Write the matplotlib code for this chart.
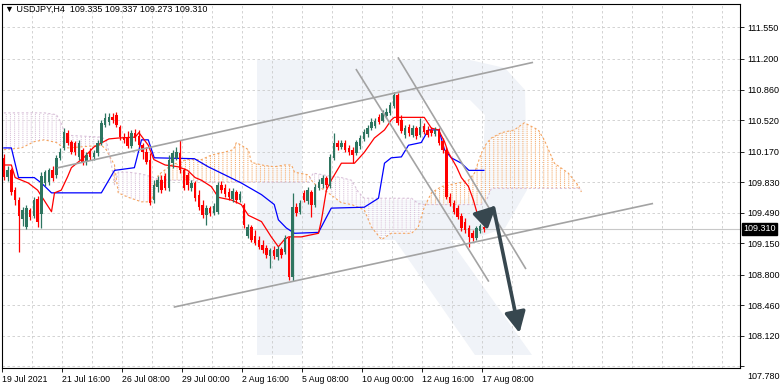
import numpy as np
import matplotlib
matplotlib.use("Agg")
import matplotlib.pyplot as plt
from matplotlib.patches import Polygon, FancyArrowPatch
from matplotlib.transforms import ScaledTranslation, blended_transform_factory

plt.rcParams['font.family'] = ['Liberation Sans', 'DejaVu Sans']
plt.rcParams['hatch.linewidth'] = 0.7

# USDJPY H4 candles, bar 0 = 19 Jul 2021 00:00, last bar = 17 Aug 08:00
opens = [110.10, 109.89, 109.96, 109.74, 109.63, 109.42, 109.33, 109.52, 109.45, 109.64,
         109.47, 109.82, 109.83, 109.96, 109.91, 110.10, 110.21, 110.38, 110.28, 110.27,
         110.11, 110.19, 110.05, 110.16, 110.11, 110.15, 110.27, 110.47, 110.50, 110.55,
         110.58, 110.44, 110.33, 110.32, 110.23, 110.38, 110.34, 110.24, 110.16, 110.08,
         109.63, 109.78, 109.85, 109.90, 109.76, 110.04, 110.10, 110.15, 109.96, 109.91,
         109.76, 109.82, 109.69, 109.58, 109.46, 109.54, 109.49, 109.50, 109.80, 109.76,
         109.72, 109.64, 109.72, 109.63, 109.58, 109.23, 109.33, 109.23, 109.19, 109.13,
         109.10, 109.01, 109.07, 109.00, 109.09, 109.05, 109.21, 108.77, 109.55, 109.50,
         109.71, 109.62, 109.72, 109.58, 109.76, 109.81, 109.88, 109.79, 110.10, 110.27,
         110.22, 110.27, 110.21, 110.19, 110.15, 110.23, 110.31, 110.36, 110.43, 110.45,
         110.55, 110.51, 110.57, 110.60, 110.68, 110.80, 110.52, 110.35, 110.44, 110.35,
         110.43, 110.35, 110.45, 110.41, 110.41, 110.37, 110.40, 110.29, 110.19, 109.66,
         109.60, 109.54, 109.45, 109.39, 109.32, 109.26, 109.21, 109.29, 109.335]
highs = [110.14, 110.01, 109.99, 109.77, 109.66, 109.55, 109.58, 109.54, 109.66, 109.67,
         109.94, 109.96, 109.99, 110.01, 110.13, 110.21, 110.43, 110.41, 110.30, 110.29,
         110.30, 110.21, 110.16, 110.21, 110.19, 110.30, 110.52, 110.60, 110.60, 110.60,
         110.61, 110.47, 110.38, 110.40, 110.41, 110.42, 110.41, 110.27, 110.22, 110.15,
         109.85, 109.90, 109.91, 109.93, 110.13, 110.19, 110.22, 110.30, 109.99, 109.94,
         109.85, 109.84, 109.74, 109.63, 109.58, 109.56, 109.60, 109.83, 109.84, 109.81,
         109.76, 109.76, 109.74, 109.73, 109.60, 109.36, 109.35, 109.30, 109.23, 109.19,
         109.13, 109.10, 109.12, 109.12, 109.11, 109.24, 109.23, 109.71, 109.60, 109.63,
         109.74, 109.77, 109.74, 109.81, 109.86, 109.91, 109.90, 110.14, 110.38, 110.30,
         110.30, 110.30, 110.24, 110.22, 110.30, 110.35, 110.42, 110.47, 110.54, 110.54,
         110.59, 110.63, 110.65, 110.72, 110.83, 110.82, 110.58, 110.47, 110.48, 110.47,
         110.45, 110.54, 110.49, 110.45, 110.44, 110.44, 110.43, 110.32, 110.22, 109.71,
         109.63, 109.58, 109.49, 109.43, 109.35, 109.30, 109.34, 109.36, 109.337]
lows = [109.85, 109.84, 109.69, 109.58, 109.05, 109.34, 109.31, 109.41, 109.43, 109.33,
        109.32, 109.79, 109.80, 109.84, 109.88, 110.08, 110.19, 110.24, 110.14, 110.13,
        110.08, 110.02, 110.02, 110.08, 110.08, 110.12, 110.24, 110.44, 110.47, 110.49,
        110.44, 110.30, 110.27, 110.21, 110.21, 110.29, 110.22, 110.09, 110.03, 109.58,
        109.60, 109.72, 109.71, 109.74, 109.73, 109.99, 110.08, 109.93, 109.74, 109.74,
        109.73, 109.62, 109.52, 109.43, 109.35, 109.45, 109.46, 109.48, 109.71, 109.66,
        109.63, 109.61, 109.60, 109.61, 109.32, 109.21, 109.16, 109.13, 109.09, 109.04,
        108.99, 108.87, 108.97, 108.96, 108.99, 109.03, 108.74, 108.73, 109.45, 109.48,
        109.61, 109.59, 109.44, 109.55, 109.74, 109.76, 109.76, 109.76, 110.08, 110.19,
        110.20, 110.16, 110.13, 110.04, 110.13, 110.20, 110.29, 110.33, 110.41, 110.43,
        110.48, 110.50, 110.54, 110.58, 110.65, 110.47, 110.38, 110.32, 110.34, 110.33,
        110.31, 110.33, 110.37, 110.33, 110.34, 110.34, 110.24, 110.15, 109.64, 109.56,
        109.48, 109.42, 109.29, 109.26, 109.11, 109.17, 109.19, 109.26, 109.273]
closes = [109.89, 109.96, 109.72, 109.63, 109.45, 109.52, 109.54, 109.44, 109.63, 109.39,
          109.90, 109.94, 109.96, 109.88, 110.10, 110.16, 110.39, 110.27, 110.16, 110.16,
          110.27, 110.05, 110.13, 110.11, 110.15, 110.27, 110.49, 110.54, 110.55, 110.52,
          110.47, 110.33, 110.30, 110.23, 110.38, 110.32, 110.24, 110.16, 110.05, 109.60,
          109.80, 109.85, 109.74, 109.76, 110.08, 110.15, 110.16, 109.96, 109.76, 109.80,
          109.82, 109.65, 109.55, 109.46, 109.54, 109.49, 109.56, 109.80, 109.74, 109.70,
          109.66, 109.73, 109.63, 109.70, 109.35, 109.33, 109.19, 109.15, 109.11, 109.07,
          109.02, 109.07, 109.01, 109.09, 109.02, 109.21, 108.77, 109.55, 109.49, 109.60,
          109.63, 109.74, 109.58, 109.78, 109.83, 109.88, 109.80, 110.11, 110.27, 110.22,
          110.27, 110.19, 110.16, 110.13, 110.28, 110.32, 110.39, 110.43, 110.50, 110.51,
          110.50, 110.60, 110.61, 110.69, 110.80, 110.49, 110.40, 110.43, 110.38, 110.43,
          110.34, 110.44, 110.39, 110.35, 110.38, 110.41, 110.27, 110.19, 109.66, 109.60,
          109.50, 109.44, 109.32, 109.30, 109.22, 109.21, 109.32, 109.34, 109.310]

# Ichimoku as (bar, price) points
tenkan_x = [0, 2, 3, 6.5, 9, 11, 12.7, 13.5, 15.3, 17, 18, 21.5, 24, 28, 30.5, 35, 36, 38.5, 40, 43,
            46.5, 49, 51, 52.7, 55.3, 57.2, 60.7, 63.3, 65.2, 68.7, 71.3, 73.2, 74.8, 75.9, 79.3, 83.9,
            84.7, 86, 87.3, 90, 93.5, 96.1, 98.8, 101.5, 103.3, 104.1, 112.1, 114, 115.9, 117.5,
            118.5, 120.7, 122, 123.9, 125.2, 126.5, 128]
tenkan_y = [110.02, 110.02, 109.88, 109.82, 109.74, 109.61, 109.50, 109.71, 109.74, 109.89,
            109.99, 110.11, 110.22, 110.31, 110.32, 110.33, 110.38, 110.24, 110.08, 110.02,
            110.00, 109.96, 109.88, 109.85, 109.78, 109.66, 109.63, 109.58, 109.46, 109.39,
            109.22, 109.11, 109.19, 109.22, 109.22, 109.26, 109.41, 109.74, 109.85, 110.04,
            110.04, 110.16, 110.32, 110.41, 110.52, 110.55, 110.55, 110.43, 110.41, 110.28,
            110.16, 110.00, 109.88, 109.78, 109.63, 109.44, 109.43]
kijun_x = [0, 2, 3.9, 8.1, 10, 12.7, 26, 29.5, 34.8, 36.7, 38.5, 40.1, 50.8, 54.5, 59.9, 63.3,
           68.7, 72.1, 73.2, 75.3, 77.5, 83.9, 87.3, 96.1, 99.9, 101.5, 103.3, 106, 107.9, 111.3,
           113.2, 116, 117.5, 119.3, 122, 124, 128]
kijun_y = [110.21, 110.21, 109.88, 109.88, 109.82, 109.71, 109.71, 109.96, 109.99, 110.30,
           110.30, 110.10, 110.09, 110.00, 109.89, 109.82, 109.69, 109.58, 109.41, 109.32,
           109.26, 109.27, 109.54, 109.55, 109.65, 110.04, 110.10, 110.11, 110.24, 110.27,
           110.41, 110.41, 110.19, 110.10, 110.04, 109.96, 109.96]
cloud_x = [0, 4.7, 8.1, 10.8, 14, 15.3, 16.1, 17.2, 26, 27.3, 28.7, 29.5, 30.5, 33.2, 36.7, 39.3,
           41.2, 44.7, 48.7, 52.7, 55.3, 58.5, 61.2, 62, 63.3, 65.2, 66, 68.7, 72.1, 74.8, 76.7,
           77.5, 81.2, 82.5, 86.5, 90, 92.7, 94.5, 96.1, 98, 100.7, 103.3, 108.7, 110.5, 112.1,
           114, 116.7, 121.2, 123.9, 125.5, 127.3, 128.7, 130, 132.7, 136.1, 138.8, 142.5, 144.1,
           146.8, 150.5, 153.2, 154]
span_a = [110.19, 110.21, 110.28, 110.30, 110.27, 110.23, 110.22, 110.21, 110.24, 110.19,
          110.08, 110.02, 109.71, 109.66, 109.61, 109.61, 109.91, 110.02, 110.08, 110.08,
          110.13, 110.16, 110.19, 110.27, 110.24, 110.19, 110.05, 110.02, 110.00, 110.02,
          110.02, 109.94, 109.91, 109.82, 109.71, 109.60, 109.58, 109.55, 109.52, 109.33,
          109.19, 109.26, 109.26, 109.33, 109.55, 109.71, 109.78, 109.82, 109.85, 109.93,
          110.15, 110.26, 110.32, 110.38, 110.41, 110.49, 110.41, 110.30, 110.04, 109.93,
          109.79, 109.72]
span_b = [110.60, 110.60, 110.60, 110.60, 110.58, 110.49, 110.38, 110.35, 110.33, 110.30,
          110.02, 109.80, 109.94, 109.94, 109.92, 109.89, 109.86, 109.85, 109.85, 109.84,
          109.83, 109.83, 109.83, 109.83, 109.83, 109.83, 109.83, 109.83, 109.83, 109.83,
          109.83, 109.83, 109.83, 109.93, 109.90, 109.88, 109.85, 109.72, 109.65, 109.65,
          109.65, 109.65, 109.65, 109.59, 109.58, 109.58, 109.58, 109.58, 109.58, 109.58,
          109.58, 109.63, 109.76, 109.76, 109.76, 109.76, 109.76, 109.76, 109.76, 109.76,
          109.76, 109.75]

# hand drawn trend lines (bar, price) and the forecast arrows
channel_lines = [((14.5, 109.99), (140.9, 111.16)),
                 ((45.5, 108.44), (172.9, 109.59)),
                 ((94.0, 111.08), (129.2, 108.73)),
                 ((105.2, 111.21), (139.1, 108.87))]
arrow_up = ((127.3, 109.41), (131.3, 109.57))
arrow_down = ((130.6, 109.54), (137.5, 108.15))

price_ticks = [111.55, 111.20, 110.86, 110.52, 110.17, 109.83, 109.49, 109.15,
               108.80, 108.46, 108.12, 107.78]
date_ticks = [0, 16, 32, 48, 64, 80, 96, 112, 128]
date_labels = ['19 Jul 2021', '21 Jul 16:00', '26 Jul 08:00', '29 Jul 00:00', '2 Aug 16:00',
               '5 Aug 08:00', '10 Aug 00:00', '12 Aug 16:00', '17 Aug 08:00']
last_price = 109.310

W, H = 782, 389
fig = plt.figure(figsize=(W / 100, H / 100), dpi=100)
ax = fig.add_axes([2 / W, (H - 368) / H, 738 / W, 364.5 / H])
ax.set_xlim(-0.5, -0.5 + 738 / 3.75)
ax.set_ylim(107.761, 111.817)


def fpx(pts):
    # pixel coordinates (from top-left) -> figure fraction
    return [(px / W, 1 - py / H) for px, py in pts]


# faint logo watermark
wm = '#f0f3f8'
for poly in [
    [(257, 60), (302, 60), (302, 355), (257, 355)],
    [(302, 60), (470, 60), (505, 68), (525, 90), (527, 190), (505, 228), (470, 240), (302, 240),
     (302, 200), (465, 200), (482, 188), (485, 115), (470, 100), (302, 100)],
    [(395, 240), (450, 240), (532, 355), (475, 355)],
]:
    ax.add_patch(Polygon(fpx(poly), closed=True, transform=fig.transFigure,
                         facecolor=wm, edgecolor='none', zorder=0))

# grid
grid_kw = dict(color='#cccccc', lw=0.6, ls=(0, (3, 3)), zorder=1)
for p in price_ticks:
    ax.axhline(p, **grid_kw)
for b in range(8, 197, 8):
    ax.axvline(b - 0.4, **grid_kw)
ax.axhline(last_price, color='#c8c8c8', lw=0.8, zorder=1)

# kumo: vertical hatch broken into dots by a white horizontal hatch
ca, cb = np.array(span_a), np.array(span_b)
for mask, col in ((ca >= cb, '#f4a460'), (ca < cb, '#d8bfd8')):
    ax.fill_between(cloud_x, ca, cb, where=mask, interpolate=True, facecolor='none',
                    edgecolor=col, hatch='||||', lw=0, zorder=2)
    ax.fill_between(cloud_x, ca, cb, where=mask, interpolate=True, facecolor='none',
                    edgecolor='white', hatch='--------', lw=0, zorder=2.1)
ax.plot(cloud_x, ca, color='#f4a460', lw=0.8, ls=(0, (2, 2)), zorder=2.2)
ax.plot(cloud_x, cb, color='#d8bfd8', lw=0.8, ls=(0, (2, 2)), zorder=2.2)

# tenkan / kijun
ax.plot(kijun_x, kijun_y, color='#0000ff', lw=0.9, zorder=3)
ax.plot(tenkan_x, tenkan_y, color='#ff0000', lw=0.9, zorder=3)

# candles
o, h, l, c = map(np.array, (opens, highs, lows, closes))
x = np.arange(len(c))
cols = np.where(c >= o, '#2e7560', '#ff0000')
ax.vlines(x, l, h, colors=cols, lw=0.9, zorder=4)
body = np.where(np.abs(c - o) < 0.006, 0.006, c - o)
ax.bar(x, body, bottom=o, width=0.72, color=cols, lw=0, zorder=5)

# trend lines and arrows
for (x0, y0), (x1, y1) in channel_lines:
    ax.plot([x0, x1], [y0, y1], color='#a3a3a3', lw=1.2, zorder=6)
for (x0, y0), (x1, y1) in (arrow_up, arrow_down):
    ax.add_patch(FancyArrowPatch((x0, y0), (x1, y1), arrowstyle='-|>,head_length=0.9,head_width=0.45',
                                 mutation_scale=14, color='#37474f', lw=2.6, zorder=7,
                                 shrinkA=0, shrinkB=0))

# axes cosmetics
for s in ax.spines.values():
    s.set_color('black')
    s.set_linewidth(0.8)
ax.yaxis.tick_right()
ax.set_yticks(price_ticks)
ax.set_yticklabels([f'{p:.3f}' for p in price_ticks])
ax.tick_params(axis='y', length=3, width=0.6, pad=2, labelsize=6.5)
ylab = ax.get_yticklabels()[-1]
ylab.set_transform(ylab.get_transform() + ScaledTranslation(0, -9 / 100, fig.dpi_scale_trans))
ax.set_xticks([d - 0.4 for d in date_ticks])
ax.set_xticklabels(date_labels, ha='left')
ax.tick_params(axis='x', length=3, width=0.6, pad=2, labelsize=6.3)

ax.text(1.004, last_price, f'{last_price:.3f}',
        transform=blended_transform_factory(ax.transAxes, ax.transData),
        color='white', fontsize=6.5, va='center', ha='left', zorder=10, clip_on=False,
        bbox=dict(facecolor='black', edgecolor='black', boxstyle='square,pad=0.15'))
fig.text(5 / W, 1 - 9 / H, '\u25bc USDJPY,H4  109.335 109.337 109.273 109.310',
         fontsize=6.5, va='center', ha='left')

fig.savefig('out.png', dpi=100, facecolor='white')
